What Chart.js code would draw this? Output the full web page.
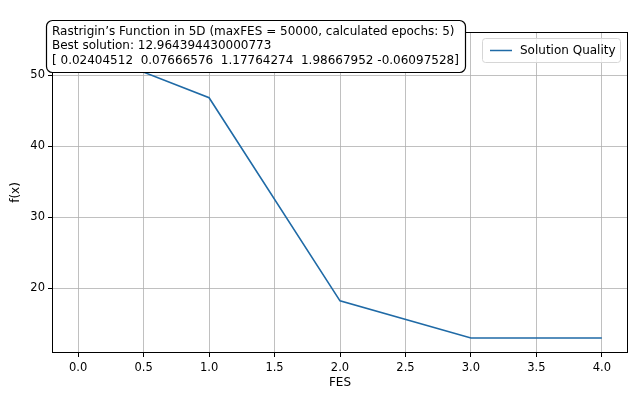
<!DOCTYPE html>
<html>
<head>
<meta charset="utf-8">
<script src="https://cdn.jsdelivr.net/npm/chart.js@4"></script>
<style>
  html, body { margin: 0; padding: 0; background: #fff; }
</style>
</head>
<body>
<canvas id="qualityChart" width="640" height="393"></canvas>
<script>
// data
const fesPoints = [0, 1, 2, 3, 4];
const quality = [54.0, 46.8, 18.2, 12.964394430000773, 12.964394430000773];
const xTicks = [0, 0.5, 1, 1.5, 2, 2.5, 3, 3.5, 4];
const yTicks = [20, 30, 40, 50];
const infoLines = [
    'Rastrigin\u2019s Function in 5D (maxFES = 50000, calculated epochs: 5)',
    'Best solution: 12.964394430000773',
    '[ 0.02404512  0.07666576  1.17764274  1.98667952 -0.06097528]'
];
const seriesName = 'Solution Quality';
const lineColor = '#1f6aa6';
const FONT = '"DejaVu Sans", sans-serif';

// frame, info box and legend on top of the plot
const overlay = {
    id: 'overlay',
    afterDraw(chart) {
        const ctx = chart.ctx;
        const a = chart.chartArea;
        ctx.save();
        ctx.strokeStyle = '#000';
        ctx.lineWidth = 1;
        ctx.strokeRect(a.left + 0.5, a.top + 0.5, a.right - a.left - 1, a.bottom - a.top - 1);

        // info box
        const bx = 46, by = 20, bw = 419, bh = 52, r = 6;
        ctx.beginPath();
        ctx.roundRect(bx + 0.5, by + 0.5, bw, bh, r);
        ctx.fillStyle = '#fff';
        ctx.fill();
        ctx.lineWidth = 1.2;
        ctx.stroke();
        ctx.fillStyle = '#000';
        ctx.font = '12px ' + FONT;
        ctx.textBaseline = 'middle';
        ctx.textAlign = 'left';
        infoLines.forEach((t, i) => ctx.fillText(t, 52, 31.5 + i * 14.6));

        // legend
        const lx = 482, ly = 38, lw = 138, lh = 24;
        ctx.beginPath();
        ctx.roundRect(lx + 0.5, ly + 0.5, lw, lh, 3);
        ctx.fillStyle = 'rgba(255,255,255,0.8)';
        ctx.fill();
        ctx.strokeStyle = '#d6d6d6';
        ctx.lineWidth = 1;
        ctx.stroke();
        ctx.strokeStyle = lineColor;
        ctx.lineWidth = 1.5;
        ctx.beginPath();
        ctx.moveTo(490, ly + 12.5);
        ctx.lineTo(512, ly + 12.5);
        ctx.stroke();
        ctx.fillStyle = '#000';
        ctx.fillText(seriesName, 520, ly + 12.5);
        ctx.restore();
    }
};

const data = {
    datasets: [{
        label: seriesName,
        data: fesPoints.map((x, i) => ({ x: x, y: quality[i] })),
        borderColor: lineColor,
        backgroundColor: lineColor,
        borderWidth: 1.6,
        pointRadius: 0,
        tension: 0,
    }]
};

const options = {
    responsive: false,
    animation: false,
    layout: { padding: { left: 0, right: 12, top: 32, bottom: 0 } },
    plugins: {
        legend: { display: false },
        tooltip: { enabled: false }
    },
    scales: {
        x: {
            type: 'linear',
            min: -0.2,
            max: 4.2,
            afterBuildTicks: s => { s.ticks = xTicks.map(v => ({ value: v })); },
            afterFit: s => { s.height = 40; },
            ticks: {
                color: '#000',
                font: { family: FONT, size: 11.5 },
                padding: 4,
                maxRotation: 0,
                callback: v => v.toFixed(1)
            },
            grid: { color: '#b0b0b0', lineWidth: 0.8, tickColor: '#000', tickLength: 4, tickWidth: 1 },
            border: { display: false },
            title: { display: true, text: 'FES', color: '#000', font: { family: FONT, size: 12 }, padding: { top: 0, bottom: 3 } }
        },
        y: {
            type: 'linear',
            min: 10.85,
            max: 56.06,
            afterBuildTicks: s => { s.ticks = yTicks.map(v => ({ value: v })); },
            afterFit: s => { s.width = 52; },
            ticks: {
                color: '#000',
                font: { family: FONT, size: 11.5 },
                padding: 3
            },
            grid: { color: '#b0b0b0', lineWidth: 0.8, tickColor: '#000', tickLength: 4, tickWidth: 1 },
            border: { display: false },
            title: { display: true, text: 'f(x)', color: '#000', font: { family: FONT, size: 12 }, padding: { top: 9, bottom: 0 } }
        }
    }
};

const qualityChart = new Chart(document.getElementById('qualityChart'), {
    type: 'line',
    data,
    options,
    plugins: [overlay]
});
</script>
</body>
</html>
